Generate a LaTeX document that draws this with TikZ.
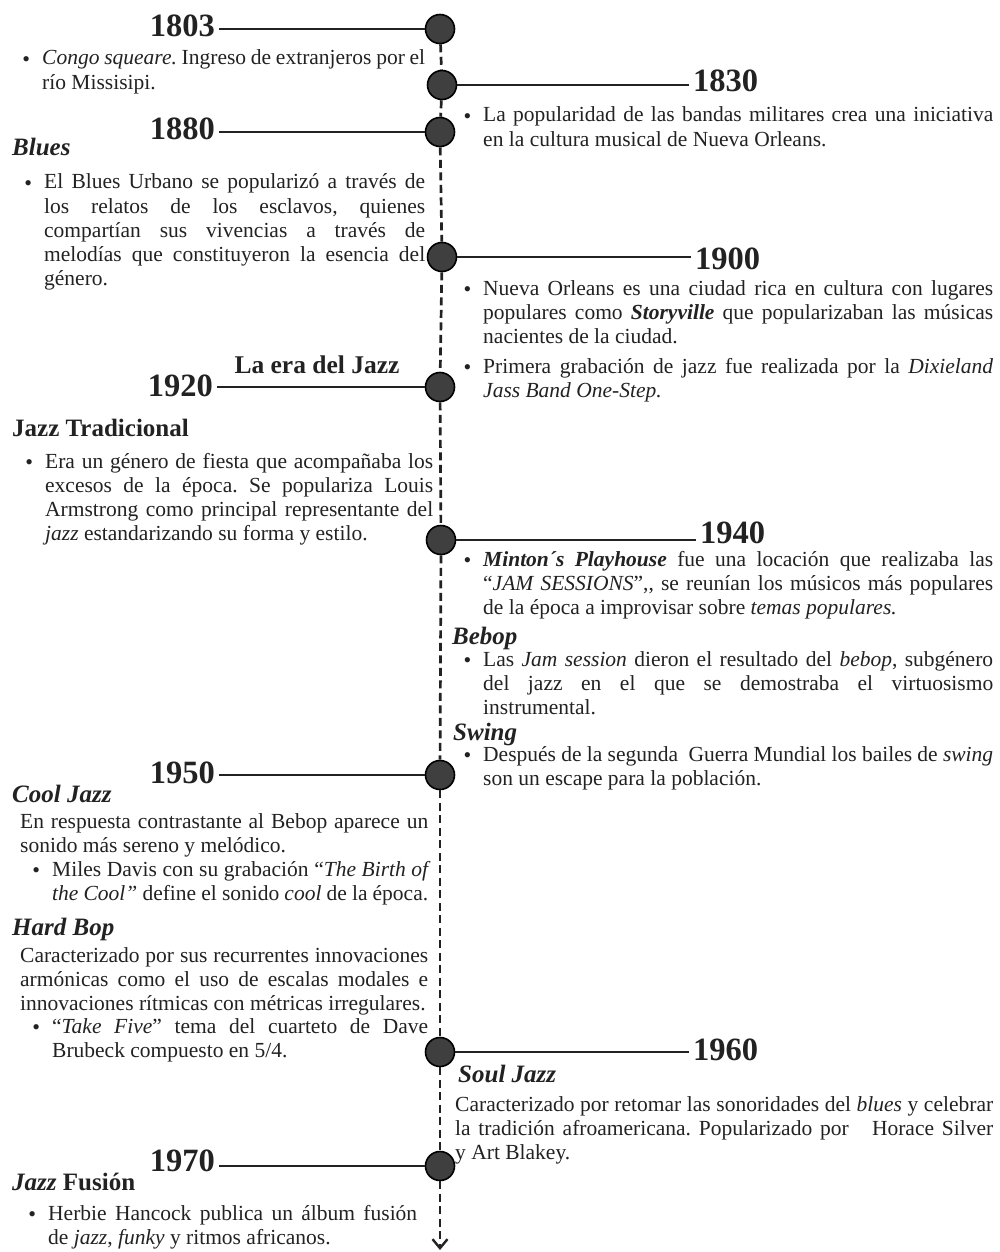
\documentclass[tikz,border=0pt]{standalone}
\usepackage{fontspec}
\setmainfont{Liberation Serif}
\usetikzlibrary{arrows.meta}
\definecolor{tinta}{HTML}{222222}
\definecolor{punto}{HTML}{3F3F3F}
\newcommand\pto{\llap{\raisebox{-1.5pt}{\fontsize{22}{22}\selectfont\textbullet}\hspace{12pt}}}
\hyphenpenalty=10000
\exhyphenpenalty=10000
\frenchspacing

\begin{document}
\begin{tikzpicture}[x=1pt,y=-1pt,
    hito/.style={circle,draw=black,line width=1.6pt,fill=punto,minimum size=29pt,inner sep=0pt},
    anio/.style={font=\fontsize{32.5}{34}\selectfont\bfseries,text=tinta,inner xsep=4pt,inner ysep=0pt},
    tema/.style={font=\fontsize{25}{27}\selectfont\bfseries\itshape,text=tinta,inner sep=0pt,anchor=base west},
    texto/.style={font=\fontsize{21.5}{24.2}\selectfont,text=tinta,inner sep=0pt,align=justify,anchor=base west},
    enlace/.style={line width=2.8pt,tinta},
    eje/.style={line width=2.7pt,tinta,dash pattern=on 8pt off 4.5pt}]
    \useasboundingbox[fill=white] (0,0) rectangle (1000,1252);

    % hitos del eje
    \foreach \a/\x/\y in {1803/440/29,1830/442/85,1880/440/132,1900/442/257,1920/440/387,
        1940/441/540,1950/440/775,1960/440/1052,1970/440/1166}
        \node[hito] (c\a) at (\x,\y) {};
    \coordinate (fin) at (440,1250);
    \foreach \a/\b in {1803/1830,1830/1880,1880/1900,1900/1920,1920/1940,1940/1950,1950/1960,1960/1970}
        \draw[eje] (c\a) -- (c\b);
    \draw[eje,-{Straight Barb[length=9pt,width=15pt,line width=2.4pt]}] (c1970) -- (fin);

    % anios a la izquierda
    \node[anio,anchor=base east] (y1803) at (219,37) {1803};
    \node[anio,anchor=base east] (y1880) at (219,140) {1880};
    \node[anio,anchor=base east] (y1920) at (217,396) {1920};
    \node[anio,anchor=base east] (y1950) at (219,783) {1950};
    \node[anio,anchor=base east] (y1970) at (219,1171) {1970};
    \foreach \a in {1803,1880,1920,1950,1970}
        \draw[enlace] (y\a.east |- c\a) -- (c\a);

    % anios a la derecha
    \node[anio,anchor=base west] (y1830) at (689,92) {1830};
    \node[anio,anchor=base west] (y1900) at (691,269) {1900};
    \node[anio,anchor=base west] (y1940) at (696,543) {1940};
    \node[anio,anchor=base west] (y1960) at (689,1060) {1960};
    \foreach \a in {1830,1900,1940,1960}
        \draw[enlace] (c\a) -- (c\a -| y\a.west);

    \node[tema,font=\fontsize{25.5}{27}\selectfont\bfseries,anchor=base] (era) at (317,373) {La era del Jazz};

    % bloques de la izquierda
    \node[texto,text width=383pt] (t1803) at (42,65)
        {\pto\textit{Congo squeare.} Ingreso de extranjeros por el\linebreak río Missisipi.};
    \node[tema] (blues) at (12,156) {Blues};
    \node[texto,text width=381pt] (t1880) at (44,189)
        {\pto El Blues Urbano se popularizó a través de\linebreak los relatos de los esclavos, quienes\linebreak
        compartían sus vivencias a través de\linebreak melodías que constituyeron la esencia del\linebreak género.};
    \node[tema,font=\fontsize{25}{27}\selectfont\bfseries] (tradi) at (12,436) {Jazz Tradicional};
    \node[texto,text width=388pt] (t1920) at (45,468)
        {\pto Era un género de fiesta que acompañaba los\linebreak excesos de la época. Se populariza Louis\linebreak
        Armstrong como principal representante del\linebreak \textit{jazz} estandarizando su forma y estilo.};
    \node[tema] (cool) at (12,802) {Cool Jazz};
    \node[texto,text width=408pt] (t1950) at (20,828)
        {En respuesta contrastante al Bebop aparece un\linebreak sonido más sereno y melódico.};
    \node[texto,text width=376pt] (miles) at (52,876)
        {\pto Miles Davis con su grabación “\textit{The Birth of\linebreak the Cool”} define el sonido \textit{cool} de la época.};
    \node[tema] (hard) at (12,935) {Hard Bop};
    \node[texto,text width=408pt] (t1955) at (20,962)
        {Caracterizado por sus recurrentes innovaciones\linebreak armónicas como el uso de escalas modales e\linebreak
        innovaciones rítmicas con métricas irregulares.};
    \node[texto,text width=376pt] (take) at (52,1033)
        {\pto “\textit{Take Five}” tema del cuarteto de Dave\linebreak Brubeck compuesto en 5/4.};
    \node[tema] (fusion) at (12,1190) {Jazz \upshape Fusión};
    \node[texto,text width=369pt] (t1970) at (48,1220)
        {\pto Herbie Hancock publica un álbum fusión\linebreak de \textit{jazz}, \textit{funky} y ritmos africanos.};

    % bloques de la derecha
    \node[texto,text width=510pt] (t1830) at (483,122)
        {\pto La popularidad de las bandas militares crea una iniciativa\linebreak en la cultura musical de Nueva Orleans.};
    \node[texto,text width=510pt] (t1900) at (483,295)
        {\pto Nueva Orleans es una ciudad rica en cultura con lugares\linebreak populares como \textbf{\textit{Storyville}}
        que popularizaban las músicas\linebreak nacientes de la ciudad.};
    \node[texto,text width=510pt] (t1917) at (483,373)
        {\pto Primera grabación de jazz fue realizada por la \textit{Dixieland\linebreak Jass Band One-Step.}};
    \node[texto,text width=510pt] (t1940) at (483,566)
        {\pto\textbf{\textit{Minton´s Playhouse}} fue una locación que realizaba las\linebreak “\textit{JAM SESSIONS}”,{}, se reunían
        los músicos más populares\linebreak de la época a improvisar sobre \textit{temas populares.}};
    \node[tema] (bebop) at (452,644) {Bebop};
    \node[texto,text width=510pt] (t1945) at (483,666)
        {\pto Las \textit{Jam session} dieron el resultado del \textit{bebop}, subgénero\linebreak del jazz en el que se
        demostraba el virtuosismo\linebreak instrumental.};
    \node[tema] (swing) at (453,740) {Swing};
    \node[texto,text width=510pt] (t1946) at (483,761)
        {\pto Después de la segunda\ \ Guerra Mundial los bailes de \textit{swing}\linebreak son un escape para la población.};
    \node[tema] (soul) at (458,1082) {Soul Jazz};
    \node[texto,text width=538pt] (t1960) at (455,1111)
        {Caracterizado por retomar las sonoridades del \textit{blues} y celebrar\linebreak la tradición afroamericana.
        Popularizado por\ \ \ Horace Silver\linebreak y Art Blakey.};
\end{tikzpicture}
\end{document}
